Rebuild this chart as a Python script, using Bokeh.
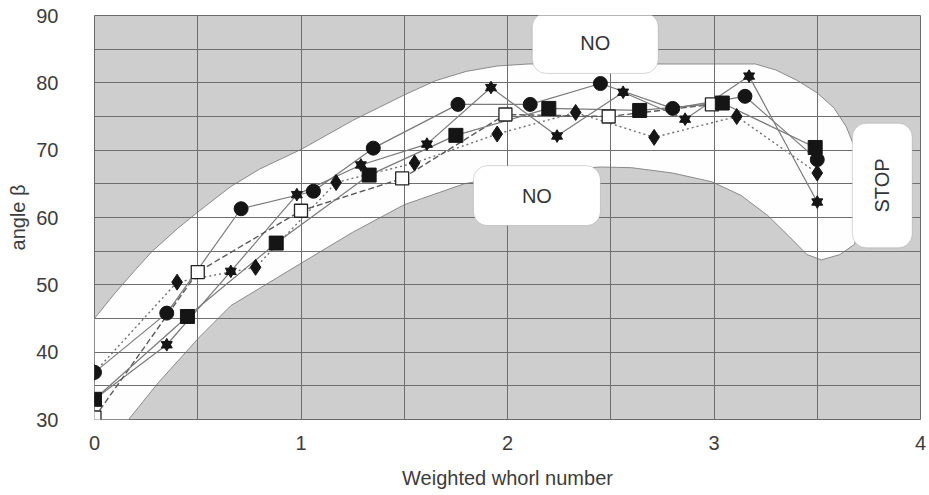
import numpy as np
from bokeh.plotting import figure
from bokeh.models import Range1d, FixedTicker, BoxAnnotation, Label
from bokeh.embed import file_html
from bokeh.resources import INLINE

# ---- data ----
circ_x = [0.0, 0.35, 0.71, 1.06, 1.35, 1.76, 2.11, 2.45, 2.80, 3.15, 3.50]
circ_y = [37.0, 45.8, 61.3, 63.9, 70.3, 76.8, 76.8, 79.9, 76.2, 78.0, 68.6]

sq_x = [0.0, 0.45, 0.88, 1.33, 1.75, 2.20, 2.64, 3.04, 3.49]
sq_y = [33.0, 45.3, 56.2, 66.3, 72.2, 76.2, 75.9, 77.0, 70.4]

osq_x = [0.0, 0.50, 1.00, 1.49, 1.99, 2.49, 2.99]
osq_y = [30.3, 51.9, 61.0, 65.8, 75.3, 75.0, 76.8]

star_x = [0.0, 0.35, 0.66, 0.98, 1.29, 1.61, 1.92, 2.24, 2.56, 2.86, 3.17, 3.50]
star_y = [33.0, 41.1, 52.0, 63.4, 67.8, 70.9, 79.3, 72.1, 78.6, 74.6, 81.0, 62.3]

dia_x = [0.0, 0.40, 0.78, 1.17, 1.55, 1.95, 2.33, 2.71, 3.11, 3.50]
dia_y = [37.0, 50.4, 52.6, 65.2, 68.1, 72.4, 75.6, 71.9, 75.0, 66.6]

# white "allowed" band (outline in data units)
band_upper_x = [0.0, 0.10, 0.20, 0.28, 0.40, 0.50, 0.66, 0.80, 1.00, 1.25, 1.50, 1.65,
                1.80, 1.95, 2.10, 3.20, 3.30, 3.40, 3.50, 3.58, 3.64, 3.70, 3.72]
band_upper_y = [45.0, 48.8, 52.3, 55.0, 58.3, 60.8, 64.6, 67.2, 70.1, 74.4, 78.2, 80.3,
                81.7, 82.5, 82.8, 82.8, 81.9, 80.4, 78.5, 76.3, 73.5, 69.0, 60.0]
band_lower_x = [3.68, 3.61, 3.52, 3.45, 3.36, 3.26, 3.13, 2.99, 2.80, 2.60, 2.45, 2.20,
                2.00, 1.79, 1.50, 1.25, 1.00, 0.66, 0.51, 0.31, 0.165]
band_lower_y = [56.0, 54.5, 53.7, 54.5, 57.3, 60.3, 63.3, 65.3, 66.6, 67.4, 67.5, 67.0,
                66.2, 65.0, 61.9, 57.8, 53.2, 46.9, 42.3, 35.5, 30.0]

# "forbidden" boxes: (left, right, bottom, top)
no_top_box = (2.12, 2.73, 81.4, 90.4)
no_low_box = (1.835, 2.45, 58.8, 67.7)
stop_box = (3.67, 3.96, 55.5, 74.0)

x_ticks = [0, 1, 2, 3, 4]
y_ticks = [30, 40, 50, 60, 70, 80, 90]
x_grid = [0, 0.5, 1, 1.5, 2, 2.5, 3, 3.5, 4]
y_grid = [30, 35, 40, 45, 50, 55, 60, 65, 70, 75, 80, 85, 90]

FONT = "Liberation Sans"
TXT = "#3c3c3c"

p = figure(width=929, height=495, x_range=Range1d(0, 4), y_range=Range1d(30, 90),
           output_backend="svg", toolbar_location=None,
           min_border_left=94, min_border_right=9, min_border_top=15, min_border_bottom=76)
p.background_fill_color = "#cecece"
p.border_fill_color = "white"
p.outline_line_color = "#6a6a6a"
p.outline_line_width = 1

band_x = [0.0] + band_upper_x + band_lower_x + [0.0]
band_y = [30.0] + band_upper_y + band_lower_y + [30.0]
p.patch(band_x, band_y, fill_color="#fefefe", line_color="#8a8a8a", line_width=1, level="image")

p.xgrid.ticker = FixedTicker(ticks=x_grid)
p.ygrid.ticker = FixedTicker(ticks=y_grid)
for g in (p.xgrid, p.ygrid):
    g.grid_line_color = "#6e6e6e"
    g.grid_line_width = 1
    g.grid_line_alpha = 1.0

p.xaxis.ticker = FixedTicker(ticks=x_ticks)
p.yaxis.ticker = FixedTicker(ticks=y_ticks)
for ax in (p.xaxis, p.yaxis):
    ax.axis_line_color = None
    ax.major_tick_line_color = None
    ax.minor_tick_line_color = None
    ax.major_label_text_font = FONT
    ax.major_label_text_font_size = "20px"
    ax.major_label_text_color = TXT
    ax.axis_label_text_font = FONT
    ax.axis_label_text_font_size = "20px"
    ax.axis_label_text_font_style = "normal"
    ax.axis_label_text_color = TXT
p.xaxis.axis_label = "Weighted whorl number"
p.yaxis.axis_label = "angle β"
p.xaxis.major_label_standoff = 10
p.xaxis.axis_label_standoff = 14
p.yaxis.major_label_standoff = 30
p.yaxis.axis_label_standoff = 4

LINE = "#7a7a7a"
p.line(dia_x, dia_y, line_color="#707070", line_width=1.4, line_dash="2 3")
p.line(star_x, star_y, line_color=LINE, line_width=1.2)
p.line(osq_x, osq_y, line_color="#5a5a5a", line_width=1.4, line_dash="6 3")
p.line(sq_x, sq_y, line_color=LINE, line_width=1.2)
p.line(circ_x, circ_y, line_color=LINE, line_width=1.2)

MK = "#151515"
p.scatter(dia_x, dia_y, marker="diamond", size=16, fill_color=MK, line_color=MK)
p.scatter(star_x, star_y, marker="triangle", size=11, fill_color=MK, line_color=MK)
p.scatter(star_x, star_y, marker="inverted_triangle", size=11, fill_color=MK, line_color=MK)
p.scatter(osq_x, osq_y, marker="square", size=13, fill_color="white", line_color="#222222", line_width=1.3)
p.scatter(sq_x, sq_y, marker="square", size=14, fill_color=MK, line_color=MK)
p.scatter(circ_x, circ_y, marker="circle", size=14, fill_color=MK, line_color=MK)

for (l, r, b, t), txt, ang in [(no_top_box, "NO", 0), (no_low_box, "NO", 0), (stop_box, "STOP", np.pi / 2)]:
    p.add_layout(BoxAnnotation(left=l, right=r, bottom=b, top=t, fill_color="white", fill_alpha=1.0,
                               line_color="#7a7a7a", line_width=1, border_radius=14))
    p.add_layout(Label(x=(l + r) / 2, y=(b + t) / 2,
                       text=txt, angle=ang, text_align="center", text_baseline="middle",
                       text_font=FONT, text_font_size="20px", text_color="#333333"))

open("out.html", "w").write(file_html(p, INLINE))
